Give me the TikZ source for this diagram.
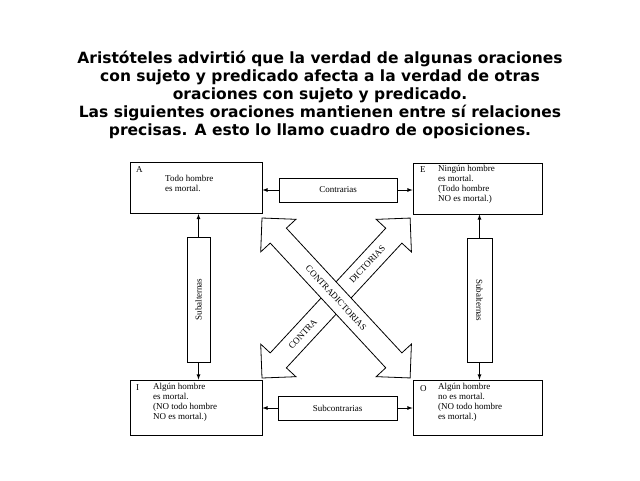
\documentclass[tikz,border=0pt]{standalone}
\usepackage{fontspec}
\setmainfont{Liberation Serif}
\newfontfamily\titlefont{DejaVu Sans}
\begin{document}
\begin{tikzpicture}[x=1pt,y=-1pt,
  box/.style={draw,thick,minimum width=132pt,minimum height=51pt,inner sep=0pt},
  lbl/.style={draw,thick,font=\fontsize{9}{10}\selectfont,inner sep=0pt},
  tx/.style={font=\fontsize{9}{10}\selectfont,align=left,anchor=north west,inner sep=0pt},
  arr/.style={-latex,thick},
  blk/.style={draw,thick,fill=white}]
\useasboundingbox (0,0) rectangle (640,480);
\node[font=\titlefont\bfseries\fontsize{15.5}{18}\selectfont,align=center] (title) at (320,95)
{Aristóteles advirtió que la verdad de algunas oraciones\\con sujeto y predicado afecta a la verdad de otras\\oraciones con sujeto y predicado.\\Las siguientes oraciones mantienen entre sí relaciones\\precisas. A esto lo llamo cuadro de oposiciones.};
% boxes
\node[box] (A) at (196,188) {};
\node[box,minimum width=129pt] (E) at (477.5,188.5) {};
\node[box,minimum height=55pt] (I) at (196,407.5) {};
\node[box,minimum width=129pt,minimum height=55pt] (O) at (477.5,407.5) {};
\node[tx] (At) at (136,166) {A};
\node[tx] (Ab) at (165,175) {Todo hombre\\es mortal.};
\node[tx] (Et) at (420,166) {E};
\node[tx] (Eb) at (438,165) {Ningún hombre\\es mortal.\\(Todo hombre\\NO es mortal.)};
\node[tx] (It) at (136,384) {I};
\node[tx] (Ib) at (153,383) {Algún hombre\\es mortal.\\(NO todo hombre\\NO es mortal.)};
\node[tx] (Ot) at (420,385) {O};
\node[tx] (Ob) at (438,383) {Algún hombre\\no es mortal.\\(NO todo hombre\\es mortal.)};
% labels
\node[lbl,minimum width=118pt,minimum height=24pt] (C) at (338,190) {Contrarias};
\node[lbl,minimum width=119pt,minimum height=24pt] (S) at (337.5,408) {Subcontrarias};
\node[lbl,minimum width=23pt,minimum height=125pt] (SL) at (198.5,299.5) {\rotatebox{90}{Subalternas}};
\node[lbl,minimum width=25pt,minimum height=124pt] (SR) at (479.5,300) {\rotatebox{-90}{Subalternas}};
\draw[arr] (C.west) -- (A.east|-C.west);
\draw[arr] (C.east) -- (E.west|-C.east);
\draw[arr] (S.west) -- (I.east|-S.west);
\draw[arr] (S.east) -- (O.west|-S.east);
\draw[arr] (SL.north) -- (SL.north|-A.south);
\draw[arr] (SL.south) -- (SL.south|-I.north);
\draw[arr] (SR.north) -- (SR.north|-E.south);
\draw[arr] (SR.south) -- (SR.south|-O.north);
% block arrows
\begin{scope}[shift={(262,378)},rotate=47.2]
\draw[blk] (0,0) -- (24,24) -- (24,11) -- (194,11) -- (194,24) -- (218,0) -- (194,-24) -- (194,-11) -- (24,-11) -- (24,-24) -- cycle;
\node[font=\fontsize{9}{10}\selectfont,rotate=47.2] (c1) at (60,0) {CONTRA};
\node[font=\fontsize{9}{10}\selectfont,rotate=47.2] (c2) at (155,0) {DICTORIAS};
\end{scope}
\begin{scope}[shift={(262,218)},rotate=-47.2]
\draw[blk] (0,0) -- (24,24) -- (24,11) -- (194,11) -- (194,24) -- (218,0) -- (194,-24) -- (194,-11) -- (24,-11) -- (24,-24) -- cycle;
\node[font=\fontsize{9}{10}\selectfont,rotate=-47.2] (c3) at (109,0) {CONTRADICTORIAS};
\end{scope}
\end{tikzpicture}
\end{document}
